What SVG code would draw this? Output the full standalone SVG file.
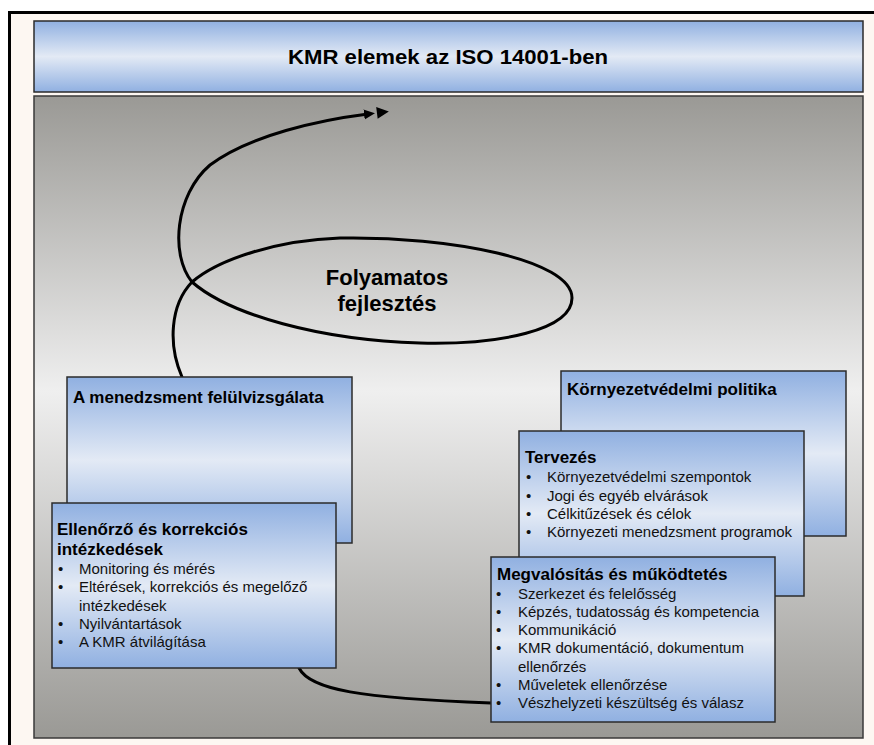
<svg xmlns="http://www.w3.org/2000/svg" width="874" height="745" viewBox="0 0 874 745">
  <style>
    .box { stroke: #2b2b2b; stroke-width: 1.5; }
    .hd { font-family: "Liberation Sans", Arial, sans-serif; font-weight: bold; font-size: 17px; fill: #000; }
    .it { font-family: "Liberation Sans", Arial, sans-serif; font-size: 15px; fill: #111; }
    .loop { fill: none; stroke: #000; stroke-width: 3; stroke-linecap: round; }
  </style>
  <defs>
    <linearGradient id="blue" x1="0" y1="0" x2="0" y2="1">
      <stop offset="0" stop-color="#90b0e1"/>
      <stop offset="0.5" stop-color="#e3eaf5"/>
      <stop offset="1" stop-color="#90b0e1"/>
    </linearGradient>
    <linearGradient id="grey" x1="0" y1="0" x2="0" y2="1">
      <stop offset="0" stop-color="#9a9995"/>
      <stop offset="0.46" stop-color="#efefef"/>
      <stop offset="1" stop-color="#9a9995"/>
    </linearGradient>
    <marker id="dbl" viewBox="0 0 26 12" refX="4" refY="6" markerWidth="26" markerHeight="12" markerUnits="userSpaceOnUse" orient="auto">
      <path d="M0,1 L11,6 L0,11 Z M13,0 L25,6 L13,12 Z" fill="#000"/>
    </marker>
  </defs>

  <!-- page frame -->
  <rect x="9.5" y="12.5" width="880" height="750" fill="#fdf7f2" stroke="#000" stroke-width="3"/>

  <!-- title band -->
  <g id="title">
    <rect x="34" y="21" width="829" height="71" fill="url(#blue)" stroke="#2b2b2b" stroke-width="1.5"/>
    <text x="448" y="64" text-anchor="middle" font-family="Liberation Sans, Arial, sans-serif" font-weight="bold" font-size="20" textLength="320" lengthAdjust="spacingAndGlyphs">KMR elemek az ISO 14001-ben</text>
  </g>

  <!-- grey stage -->
  <rect x="34" y="96" width="829" height="642" fill="url(#grey)" stroke="#3a3a3a" stroke-width="1.5"/>

  <!-- improvement spiral -->
  <g id="connectors">
    <path class="loop" marker-end="url(#dbl)" d="M182,377 C168,345 170,305 192,282 C220,258 280,240 340,238 C450,236 572,260 572,298 C572,330 500,345 420,343 C320,340 230,315 192,282 C170,255 175,195 210,165 C250,135 320,120 368,114"/>
    <path class="loop" d="M299,668 C310,690 360,698 491,703"/>
  </g>

  <g id="cycle-label">
    <text x="387" y="285" text-anchor="middle" font-family="Liberation Sans, Arial, sans-serif" font-weight="bold" font-size="22">Folyamatos</text>
    <text x="387" y="311" text-anchor="middle" font-family="Liberation Sans, Arial, sans-serif" font-weight="bold" font-size="22">fejlesztés</text>
  </g>

  <!-- management review -->
  <g id="review">
    <rect class="box" x="67" y="377" width="285" height="166" fill="url(#blue)"/>
    <text class="hd" x="73" y="403">A menedzsment felülvizsgálata</text>
  </g>

  <!-- checking and corrective action -->
  <g id="checking">
    <rect class="box" x="52" y="503" width="284" height="165" fill="url(#blue)"/>
    <text class="hd" x="57" y="535">Ellenőrző és korrekciós</text>
    <text class="hd" x="57" y="555">intézkedések</text>
    <g class="it">
      <text x="58" y="574">•</text><text x="79" y="574">Monitoring és mérés</text>
      <text x="58" y="592">•</text><text x="79" y="592">Eltérések, korrekciós és megelőző</text>
      <text x="79" y="611">intézkedések</text>
      <text x="58" y="629">•</text><text x="79" y="629">Nyilvántartások</text>
      <text x="58" y="647">•</text><text x="79" y="647">A KMR átvilágítása</text>
    </g>
  </g>

  <!-- environmental policy -->
  <g id="policy">
    <rect class="box" x="561" y="371" width="285" height="165" fill="url(#blue)"/>
    <text class="hd" x="567" y="395">Környezetvédelmi politika</text>
  </g>

  <!-- planning -->
  <g id="planning">
    <rect class="box" x="519" y="431" width="285" height="165" fill="url(#blue)"/>
    <text class="hd" x="525" y="463">Tervezés</text>
    <g class="it">
      <text x="526" y="482">•</text><text x="547" y="482">Környezetvédelmi szempontok</text>
      <text x="526" y="501">•</text><text x="547" y="501">Jogi és egyéb elvárások</text>
      <text x="526" y="519">•</text><text x="547" y="519">Célkitűzések és célok</text>
      <text x="526" y="537">•</text><text x="547" y="537">Környezeti menedzsment programok</text>
    </g>
  </g>

  <!-- implementation and operation -->
  <g id="implementation">
    <rect class="box" x="491" y="557" width="284" height="165" fill="url(#blue)"/>
    <text class="hd" x="497" y="580">Megvalósítás és működtetés</text>
    <g class="it">
      <text x="496" y="599">•</text><text x="518" y="599">Szerkezet és felelősség</text>
      <text x="496" y="617">•</text><text x="518" y="617">Képzés, tudatosság és kompetencia</text>
      <text x="496" y="635">•</text><text x="518" y="635">Kommunikáció</text>
      <text x="496" y="653">•</text><text x="518" y="653">KMR dokumentáció, dokumentum</text>
      <text x="518" y="672">ellenőrzés</text>
      <text x="496" y="690">•</text><text x="518" y="690">Műveletek ellenőrzése</text>
      <text x="496" y="708">•</text><text x="518" y="708">Vészhelyzeti készültség és válasz</text>
    </g>
  </g>
</svg>
